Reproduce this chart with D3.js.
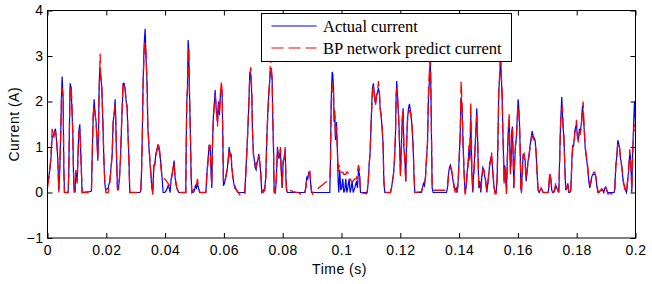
<!DOCTYPE html>
<html>
<head>
<meta charset="utf-8">
<script src="https://cdn.jsdelivr.net/npm/d3@7"></script>
<style>
  html, body { margin: 0; padding: 0; background: #fff; }
  svg { display: block; }
</style>
</head>
<body>
<div id="chart"></div>
<script>
// time stamps (s), one per sample, shared by both series
const timeS = [
  0, 0.00056, 0.00112, 0.00158, 0.00214, 0.00271, 0.00305, 0.00339, 0.00362, 0.00384,
  0.00418, 0.00452, 0.00475, 0.00498, 0.00532, 0.00554, 0.00577, 0.00702, 0.00724, 0.00747,
  0.0077, 0.00804, 0.00827, 0.00861, 0.00883, 0.00906, 0.0094, 0.00963, 0.01008, 0.01042,
  0.01065, 0.01099, 0.01121, 0.01155, 0.01178, 0.01439, 0.01495, 0.01518, 0.01552, 0.01586,
  0.0162, 0.01654, 0.01688, 0.01711, 0.01734, 0.01756, 0.01779, 0.0179, 0.01813, 0.01847,
  0.0187, 0.01892, 0.01915, 0.01949, 0.01983, 0.02062, 0.02119, 0.02153, 0.02198, 0.02232,
  0.02266, 0.023, 0.02323, 0.02346, 0.0238, 0.02414, 0.02448, 0.02482, 0.02516, 0.0255,
  0.02573, 0.02607, 0.02641, 0.02675, 0.02709, 0.02731, 0.02765, 0.02799, 0.0314, 0.03173,
  0.03196, 0.03219, 0.03253, 0.03287, 0.03321, 0.03355, 0.03389, 0.03412, 0.03446, 0.0348,
  // 0.035 - 0.072
  0.03514, 0.03548, 0.03582, 0.03616, 0.0365, 0.03684, 0.03718, 0.03752, 0.03774, 0.0382,
  0.03854, 0.03888, 0.03933, 0.0399, 0.04046, 0.04103, 0.04137, 0.04171, 0.04205, 0.04239,
  0.04273, 0.04307, 0.0433, 0.04364, 0.04398, 0.04432, 0.04466, 0.045, 0.04534, 0.04704,
  0.04715, 0.04738, 0.04761, 0.04783, 0.04806, 0.04829, 0.04863, 0.04886, 0.04908, 0.04954,
  0.04988, 0.05033, 0.05067, 0.05101, 0.05135, 0.0518, 0.05384, 0.05407, 0.0543, 0.05464,
  0.05498, 0.05532, 0.05566, 0.05588, 0.05611, 0.05645, 0.05679, 0.05702, 0.05736, 0.05759,
  0.05781, 0.05815, 0.05849, 0.05883, 0.05917, 0.0594, 0.05963, 0.05985, 0.06019, 0.06053,
  0.06087, 0.06121, 0.06155, 0.06178, 0.06212, 0.06246, 0.06269, 0.06303, 0.06337, 0.06371,
  0.06428, 0.06484, 0.06541, 0.06711, 0.06734, 0.06768, 0.06802, 0.06836, 0.06858, 0.06881,
  0.06915, 0.06949, 0.06972, 0.07006, 0.07028, 0.07062, 0.07096, 0.07119, 0.07153, 0.07187,
  0.07221,
  // 0.072 - 0.110
  0.07255, 0.07289, 0.07334, 0.07391, 0.07425, 0.07459, 0.07493, 0.07527, 0.07561, 0.07584,
  0.07618, 0.07641, 0.07663, 0.07686, 0.07709, 0.07743, 0.07765, 0.07788, 0.07822, 0.07856,
  0.0789, 0.07924, 0.07947, 0.07981, 0.08015, 0.08049, 0.08083, 0.08105, 0.08128, 0.08162,
  0.08241, 0.08355, 0.08525, 0.08638, 0.08718, 0.08752, 0.08786, 0.0882, 0.08854, 0.08888,
  0.08922, 0.08944, 0.08978, 0.09012, 0.09035, 0.09602, 0.09625, 0.09648, 0.09682, 0.09704,
  0.09727, 0.0975, 0.09772, 0.09795, 0.09829, 0.09863, 0.09885, 0.09908, 0.09942, 0.09976,
  0.1001, 0.10044, 0.10078, 0.10112, 0.10146, 0.1018, 0.10214, 0.1026, 0.10294, 0.10328,
  0.10362, 0.10396, 0.10452, 0.10509, 0.10543, 0.10577, 0.10611, 0.10645, 0.10849, 0.10872,
  0.10906, 0.1094, 0.10974,
  // 0.110 - 0.147
  0.11019, 0.11053, 0.11087, 0.11121, 0.11155, 0.11189, 0.11223, 0.11257, 0.11291, 0.11314,
  0.11348, 0.11382, 0.11416, 0.11439, 0.11473, 0.11666, 0.117, 0.11734, 0.11768, 0.11802,
  0.11836, 0.11858, 0.11881, 0.11904, 0.11938, 0.1196, 0.11983, 0.12006, 0.1204, 0.12062,
  0.12096, 0.12119, 0.12153, 0.12187, 0.1221, 0.12244, 0.12278, 0.12312, 0.12334, 0.12368,
  0.12402, 0.12437, 0.12459, 0.12493, 0.1272, 0.12754, 0.12788, 0.12822, 0.12856, 0.1289,
  0.12924, 0.12958, 0.12992, 0.13015, 0.13037, 0.1306, 0.13083, 0.13117, 0.1357, 0.13604,
  0.13638, 0.13672, 0.13706, 0.1374, 0.13774, 0.13797, 0.13831, 0.13865, 0.13899, 0.13933,
  0.13967, 0.14001, 0.14035, 0.14069, 0.14103, 0.14137, 0.14171, 0.14205, 0.14239, 0.14273,
  0.14307, 0.14341, 0.14364, 0.14398, 0.14432, 0.14466, 0.145, 0.14534, 0.14568, 0.14602,
  0.14636, 0.1467, 0.14704,
  // 0.147 - 0.187
  0.14738, 0.14772, 0.14806, 0.1484, 0.14874, 0.14908, 0.14942, 0.14976, 0.1501, 0.15044,
  0.15078, 0.15101, 0.15124, 0.15158, 0.15192, 0.15226, 0.1526, 0.15294, 0.15328, 0.1535,
  0.15373, 0.15396, 0.15418, 0.15441, 0.15464, 0.15486, 0.15509, 0.15532, 0.15554, 0.15588,
  0.15611, 0.15645, 0.15679, 0.15702, 0.15724, 0.15747, 0.1577, 0.15793, 0.15815, 0.15838,
  0.15861, 0.15883, 0.15917, 0.15951, 0.15974, 0.16008, 0.16031, 0.16053, 0.16076, 0.16099,
  0.16121, 0.16144, 0.16178, 0.16212, 0.16246, 0.1628, 0.16314, 0.16348, 0.16382, 0.16416,
  0.1645, 0.16484, 0.16518, 0.16552, 0.16586, 0.1662, 0.16654, 0.16688, 0.16722, 0.16756,
  0.1679, 0.16824, 0.16858, 0.17028, 0.17051, 0.17085, 0.17119, 0.17153, 0.17187, 0.17221,
  0.17255, 0.17289, 0.17323, 0.17357, 0.17391, 0.17425, 0.17448, 0.17471, 0.17493, 0.17516,
  0.17539, 0.17561, 0.17584, 0.17607, 0.17629, 0.17663, 0.17697, 0.17731, 0.17765, 0.17799,
  0.17822, 0.17845, 0.17867, 0.1789, 0.17913, 0.17935, 0.17969, 0.17992, 0.18026, 0.1806,
  0.18094, 0.18128, 0.18162, 0.18196, 0.18219, 0.18253, 0.18287, 0.1831, 0.18344, 0.18378,
  0.18412, 0.18446, 0.1848, 0.18514, 0.18548, 0.18582, 0.18616, 0.1865, 0.18684, 0.18718,
  // 0.187 - 0.2
  0.18752, 0.1882, 0.18854, 0.18888, 0.18922, 0.18956, 0.1899, 0.19024, 0.19058, 0.19273,
  0.19296, 0.1933, 0.19364, 0.19398, 0.1942, 0.19454, 0.19488, 0.19522, 0.19557, 0.19591,
  0.19625, 0.19659, 0.19693, 0.19727, 0.19761, 0.19784, 0.19806, 0.19829, 0.19852, 0.19874,
  0.19897, 0.1992, 0.19942, 0.19965, 0.19988, 0.2
]

// measured current (A)
const actualA = [
  0.2, 0.4, 0.7, 1.2, 1.3, 1.4, 1.15, 0.85, 0.5, 0.05,
  0.5, 1.35, 2.1, 2.55, 2.05, 0.6, 0, 0, 0.45, 1.5,
  2.4, 2.3, 1.9, 1.3, 0.45, 0, 0.05, 0.45, 0.25, 0.9,
  1.35, 1.5, 1.05, 0.4, 0, 0.02, 0.03, 0.75, 1.6, 2.05,
  1.7, 1.55, 1.05, 0.7, 1.3, 2.3, 2.75, 2.6, 2.55, 2.3,
  1.8, 1.35, 0.75, 0.2, 0.05, 0.1, 0.25, 0.5, 0.8, 1.55,
  1.7, 2.05, 1.55, 0.85, 0.05, 0.1, 0.3, 0.75, 1.4, 2.0,
  2.4, 2.4, 2.25, 2.0, 1.9, 1.4, 0.85, 0, 0, 0.03,
  0.4, 1.05, 2.45, 3.25, 3.6, 2.9, 2.35, 1.45, 1.05, 0.7,
  // 0.035 - 0.072
  0.4, 0.1, 0, 0.6, 0.6, 0.85, 0.9, 1.05, 1.0, 0.85,
  0.65, 0.4, 0, 0, 0.05, 0.15, 0.1, 0, 0.3, 0.4,
  0.55, 0.7, 0.4, 0.2, 0.1, 0.05, 0, 0, 0, 0,
  0.85, 2.0, 2.3, 3.35, 3.1, 2.2, 1.2, 0.35, 0, 0,
  0.03, 0.15, 0.1, 0.2, 0.1, 0, 0, 0.2, 0.5, 0.75,
  1.05, 1.0, 0.4, 0.1, 1.05, 1.7, 2.0, 2.25, 1.85, 1.75,
  1.55, 2.0, 1.7, 2.2, 2.3, 2.15, 1.2, 0.15, 0.2, 0.3,
  0.4, 0.55, 0.8, 1.0, 0.8, 0.85, 0.55, 0.35, 0.2, 0.1,
  0.05, 0, 0, 0, 0.3, 0.75, 1.2, 1.7, 2.15, 2.65,
  2.6, 2.15, 1.35, 0.85, 0.75, 0.55, 0.5, 0.65, 0.7, 0.85,
  0.65,
  // 0.072 - 0.110
  0.4, 0, 0.03, 0.1, 0.35, 1.2, 1.75, 2.15, 2.45, 2.65,
  2.65, 2.5, 1.6, 1.0, 0, 0, 0.1, 0.4, 1.0, 0.75,
  0.8, 0.95, 0.5, 0.1, 0.7, 0.75, 0.95, 0.4, 0.05, 0,
  0, 0, 0, 0, 0, 0, 0.1, 0.35, 0.3, 0.45,
  0.45, 0.25, 0, 0, 0, 0, 0.7, 2.0, 2.65, 2.6,
  2.3, 1.55, 1.7, 1.15, 1.55, 0.85, 0.25, 0, 0.5, 0.05,
  0.1, 0.3, 0, 0.05, 0.3, 0, 0.1, 0.3, 0, 0.1,
  0.25, 0, 0.1, 0.25, 0.1, 0.5, 0.4, 0, 0, 0,
  0.2, 0.6, 0.9,
  // 0.110 - 0.147
  1.75, 2.3, 2.4, 2.1, 1.95, 2.15, 2.2, 2.3, 2.15, 1.85,
  1.7, 1.4, 1.05, 0.25, 0, 0, 0.1, 0.25, 0.4, 0.7,
  1.25, 2.15, 2.45, 2.1, 1.7, 1.4, 0.85, 0.4, 1.1, 1.55,
  1.85, 1.0, 0.75, 0.25, 1.0, 1.6, 1.85, 1.95, 1.85, 1.7,
  1.4, 1.0, 0.5, 0, 0, 0.1, 0.2, 0.15, 0.35, 0.75,
  1.05, 2.1, 2.5, 2.95, 2.4, 1.25, 0.1, 0, 0, 0.1,
  0.4, 0.55, 0.6, 0.5, 0.35, 0.25, 0.1, 0.05, 0.1, 0,
  0.25, 0.75, 1.25, 2.1, 1.85, 1.0, 0.4, 0, 0.1, 0.45,
  0.65, 1.0, 0.75, 1.7, 0.45, 0, 0.45, 0.85, 1.35, 1.85,
  1.0, 0.1, 0.25,
  // 0.147 - 0.187
  0, 0.35, 0.55, 0.5, 0.35, 0.25, 0, 0.2, 0.4, 0.65,
  0.75, 0.8, 0.65, 0.35, 0.1, 0, 0, 0.3, 1.4, 2.25,
  2.45, 2.75, 2.85, 2.45, 2.1, 1.4, 0.85, 0.25, 0.6, 0.3,
  0, 0.85, 1.45, 1.6, 1.0, 0.45, 0.7, 1.35, 1.45, 0.8,
  0.1, 0.6, 1.0, 1.25, 1.6, 2.05, 1.85, 1.55, 1.0, 0.1,
  0, 0.4, 0.85, 0.8, 0.7, 0.25, 0.5, 0.7, 0.85, 1.05,
  1.2, 1.35, 1.25, 1.2, 1.15, 0.85, 0.4, 0.05, 0, 0.05,
  0.08, 0.05, 0, 0, 0.1, 0.4, 0.3, 0.05, 0, 0,
  0.05, 0.15, 0.1, 0.05, 0, 0.85, 1.45, 1.8, 2.1, 1.7,
  1.4, 1.25, 0.85, 0.35, 0.05, 0.1, 0.2, 0, 0, 0.05,
  0.45, 0.85, 1.05, 1.0, 1.15, 1.35, 1.45, 1.5, 1.2, 1.15,
  1.4, 1.35, 1.55, 1.9, 1.75, 1.4, 1.0, 0.85, 0.7, 0.5,
  0.25, 0.1, 0.2, 0.35, 0.4, 0.4, 0.4, 0.35, 0.15, 0,
  // 0.187 - 0.2
  0, 0.05, 0.08, 0.05, 0, 0.1, 0.12, 0.05, 0, 0,
  0.1, 0.6, 0.8, 1.15, 1.1, 1.0, 0.75, 0.65, 0.4, 0.2,
  0.15, 0.05, 0, 0.2, 0.45, 0.7, 0.85, 0.8, 0.45, 0,
  0.7, 1.2, 1.6, 2.0, 1.7, 1.5
]

// BP network prediction (A)
const predictA = [
  0.1, 0.35, 0.75, 1.4, 1.2, 1.35, 1.2, 0.9, 0.45, 0,
  0.6, 1.3, 2.05, 2.3, 2.1, 0.5, 0, 0, 0.4, 1.4,
  2.3, 2.35, 2.0, 1.35, 0.5, 0.1, 0, 0.5, 0.2, 0.85,
  1.3, 1.4, 1.1, 0.45, 0, 0, 0.05, 0.7, 1.7, 1.9,
  1.75, 1.5, 1.1, 0.75, 1.2, 2.2, 2.7, 3.05, 2.5, 2.3,
  1.85, 1.4, 0.8, 0.25, 0, 0, 0.2, 0.45, 0.85, 1.5,
  1.75, 1.9, 1.6, 0.9, 0.1, 0.05, 0.35, 0.7, 1.45, 2.05,
  2.4, 2.35, 2.3, 2.0, 1.85, 1.45, 0.8, 0, 0, 0.05,
  0.35, 1.0, 2.4, 3.1, 3.3, 3.0, 2.3, 1.5, 1.1, 0.75,
  // 0.035 - 0.072
  0.45, 0.15, -0.05, 0.55, 0.65, 0.8, 0.95, 1.0, 1.1, 0.9,
  0.6, 0.35, 0.3, 0.3, 0.25, 0.2, 0.15, 0.15, 0.25, 0.4,
  0.55, 0.65, 0.45, 0.25, 0.1, 0.05, 0, -0.05, 0, 0,
  0.8, 2.1, 2.25, 2.9, 3.2, 2.2, 1.2, 0.4, 0, 0.05,
  0.1, 0.15, 0.15, 0.3, 0.1, 0, 0, 0.25, 0.45, 0.7,
  1.0, 1.05, 0.45, 0.15, 1.0, 1.65, 1.95, 2.15, 1.9, 1.7,
  1.45, 1.95, 1.75, 2.15, 2.45, 2.2, 1.25, 0.2, 0.25, 0.3,
  0.45, 0.5, 0.75, 0.95, 0.85, 0.8, 0.6, 0.35, 0.25, 0.15,
  0.05, 0, -0.05, -0.05, 0.25, 0.7, 1.2, 1.75, 2.1, 2.6,
  2.75, 2.2, 1.4, 0.8, 0.7, 0.65, 0.55, 0.6, 0.7, 0.8,
  0.65,
  // 0.072 - 0.110
  0.45, 0.05, 0, 0.05, 0.3, 1.15, 1.7, 2.2, 2.5, 3.0,
  2.7, 2.45, 1.65, 1.05, 0.05, -0.03, 0.1, 0.35, 0.95, 0.8,
  0.75, 1.0, 0.55, 0.1, 0.65, 0.75, 1.0, 0.45, 0.1, 0,
  0.05, 0.02, 0, -0.05, -0.05, 0, 0.1, 0.3, 0.35, 0.4,
  0.45, 0.3, 0.05, -0.03, 0, 0.3, 0.6, 1.8, 2.3, 2.4,
  2.2, 1.6, 1.8, 1.2, 1.45, 0.9, 0.45, 0.6, 0.55, 0.45,
  0.45, 0.45, 0.4, 0.4, 0.4, 0.45, 0.45, 0.35, 0.3, 0.25,
  0.25, 0.25, 0.3, 0.3, 0.45, 0.6, 0.5, 0, -0.03, 0,
  0.2, 0.6, 0.9,
  // 0.110 - 0.147
  1.7, 2.2, 2.35, 2.15, 1.9, 2.1, 2.2, 2.45, 2.2, 1.85,
  1.7, 1.45, 1.0, 0.3, 0, 0, 0.1, 0.25, 0.4, 0.75,
  1.3, 2.1, 2.3, 2.15, 1.75, 1.35, 0.9, 0.35, 1.0, 1.6,
  1.8, 1.1, 0.7, 0.2, 0.95, 1.55, 1.75, 1.8, 1.8, 1.65,
  1.45, 1.05, 0.55, 0, 0.02, 0.1, 0.15, 0.2, 0.3, 0.7,
  1.1, 2.2, 2.7, 3.3, 2.5, 1.3, 0.15, 0.05, 0.05, 0.1,
  0.35, 0.5, 0.55, 0.5, 0.4, 0.3, 0.15, 0, 0.1, 0,
  0.2, 0.7, 1.2, 2.45, 1.9, 1.05, 0.45, -0.05, 0.1, 0.4,
  0.6, 1.05, 0.7, 2.0, 0.5, 0.05, 0.4, 0.8, 1.3, 1.7,
  1.05, 0.15, 0.2,
  // 0.147 - 0.187
  0.05, 0.3, 0.5, 0.5, 0.4, 0.2, 0.05, 0.15, 0.45, 0.6,
  0.7, 0.9, 0.7, 0.35, 0.1, -0.03, -0.03, 0.3, 1.3, 2.2,
  2.5, 3.0, 3.1, 2.5, 2.2, 1.45, 0.8, 0.2, 0.55, 0.3,
  -0.03, 0.8, 1.4, 1.75, 1.05, 0.4, 0.75, 1.3, 1.4, 0.85,
  0.05, 0.55, 1.05, 1.2, 1.55, 1.9, 1.8, 1.5, 1.05, 0.1,
  -0.03, 0.35, 0.8, 0.85, 0.65, 0.3, 0.45, 0.7, 0.8, 1.0,
  1.15, 1.25, 1.2, 1.15, 1.1, 0.9, 0.4, 0.05, 0, 0.02,
  0.1, 0.05, 0, 0, 0.15, 0.45, 0.3, 0.1, 0, 0.02,
  0.1, 0.2, 0.1, 0.05, 0, 0.8, 1.4, 1.75, 1.85, 1.9,
  1.45, 1.3, 0.8, 0.4, 0.1, 0.1, 0.15, 0, -0.03, 0.05,
  0.4, 0.8, 1.0, 1.05, 1.1, 1.3, 1.4, 1.6, 1.25, 1.1,
  1.35, 1.3, 1.5, 1.8, 2.0, 1.45, 1.05, 0.9, 0.75, 0.55,
  0.3, 0.15, 0.25, 0.35, 0.4, 0.45, 0.45, 0.35, 0.2, 0.05,
  // 0.187 - 0.2
  0, 0.05, 0.05, 0.05, 0.02, 0.05, 0.1, 0.05, -0.03, -0.03,
  0.05, 0.55, 0.75, 1.1, 1.05, 1.0, 0.8, 0.6, 0.45, 0.25,
  0.1, 0.05, 0, 0.25, 0.4, 0.65, 0.95, 0.75, 0.5, 0.05,
  0.6, 1.1, 1.4, 1.5, 1.35, 1.4
]

const xTicks = [0, 0.02, 0.04, 0.06, 0.08, 0.1, 0.12, 0.14, 0.16, 0.18, 0.2]
const xTickLabels = ['0', '0.02', '0.04', '0.06', '0.08', '0.1', '0.12', '0.14', '0.16', '0.18', '0.2']
const yTicks = [-1, 0, 1, 2, 3, 4]
const seriesNames = ['Actual current', 'BP network predict current']

const width = 652
const height = 284
const margin = { top: 10.5, right: 16.5, bottom: 46, left: 47.5 }

const svg = d3
  .select('#chart')
  .append('svg')
  .attr('width', width)
  .attr('height', height)

const x = d3.scaleLinear().domain([0, 0.2]).range([margin.left, width - margin.right])
const y = d3.scaleLinear().domain([-1, 4]).range([height - margin.bottom, margin.top])

const font = '"Liberation Sans", Arial, sans-serif'
const dash = '12,5'

svg.append('defs')
  .append('clipPath')
  .attr('id', 'plot-clip')
  .append('rect')
  .attr('x', x(0))
  .attr('y', y(4))
  .attr('width', x(0.2) - x(0))
  .attr('height', y(-1) - y(4))

const n = Math.min(timeS.length, actualA.length, predictA.length)
const pts = d3.range(n).map((i) => ({ t: timeS[i], a: actualA[i], p: predictA[i] }))

const plot = svg.append('g').attr('clip-path', 'url(#plot-clip)')

plot.append('path')
  .datum(pts)
  .attr('fill', 'none')
  .attr('stroke', '#0000ff')
  .attr('stroke-width', 1.2)
  .attr('d', d3.line().x((d) => x(d.t)).y((d) => y(d.a)))

plot.append('path')
  .datum(pts)
  .attr('fill', 'none')
  .attr('stroke', '#ff0000')
  .attr('stroke-width', 1.3)
  .attr('stroke-dasharray', dash)
  .attr('d', d3.line().x((d) => x(d.t)).y((d) => y(d.p)))

// axes, MATLAB style: ticks inward on all four sides
const tickLen = 5
const styleAxis = (g) => {
  g.select('.domain').remove()
  g.selectAll('.tick line').attr('stroke', '#000')
  g.selectAll('.tick text')
    .attr('fill', '#000')
    .attr('font-family', font)
    .attr('font-size', 14)
    .attr('letter-spacing', 0.5)
}

svg.append('g')
  .attr('transform', `translate(0,${y(-1)})`)
  .call(d3.axisBottom(x).tickValues(xTicks).tickFormat((d, i) => xTickLabels[i]).tickSizeInner(-tickLen).tickSizeOuter(0).tickPadding(7))
  .call(styleAxis)

svg.append('g')
  .attr('transform', `translate(0,${y(4)})`)
  .call(d3.axisTop(x).tickValues(xTicks).tickFormat('').tickSizeInner(-tickLen).tickSizeOuter(0))
  .call(styleAxis)

svg.append('g')
  .attr('transform', `translate(${x(0)},0)`)
  .call(d3.axisLeft(y).tickValues(yTicks).tickFormat(d3.format('d')).tickSizeInner(-tickLen).tickSizeOuter(0).tickPadding(4))
  .call(styleAxis)

svg.append('g')
  .attr('transform', `translate(${x(0.2)},0)`)
  .call(d3.axisRight(y).tickValues(yTicks).tickFormat('').tickSizeInner(-tickLen).tickSizeOuter(0))
  .call(styleAxis)

svg.append('rect')
  .attr('x', x(0))
  .attr('y', y(4))
  .attr('width', x(0.2) - x(0))
  .attr('height', y(-1) - y(4))
  .attr('fill', 'none')
  .attr('stroke', '#000')
  .attr('stroke-width', 1)

svg.append('text')
  .attr('x', (x(0) + x(0.2)) / 2 - 2)
  .attr('y', 274)
  .attr('text-anchor', 'middle')
  .attr('font-family', font)
  .attr('font-size', 14)
  .attr('letter-spacing', 0.5)
  .text('Time (s)')

svg.append('text')
  .attr('transform', `translate(19,${(y(-1) + y(4)) / 2}) rotate(-90)`)
  .attr('text-anchor', 'middle')
  .attr('font-family', font)
  .attr('font-size', 14)
  .attr('letter-spacing', 0.5)
  .text('Current (A)')

// legend
const legend = svg.append('g').attr('transform', 'translate(261.5,13.5)')
legend.append('rect')
  .attr('width', 250)
  .attr('height', 48)
  .attr('fill', '#fff')
  .attr('stroke', '#000')

const legendItems = [
  { name: seriesNames[0], color: '#0000ff', dash: null },
  { name: seriesNames[1], color: '#ff0000', dash: dash }
]

const row = legend.selectAll('g.item')
  .data(legendItems)
  .join('g')
  .attr('class', 'item')
  .attr('transform', (d, i) => `translate(0,${12.5 + i * 22})`)

row.append('line')
  .attr('x1', 10)
  .attr('x2', 55)
  .attr('stroke', (d) => d.color)
  .attr('stroke-width', 1.2)
  .attr('stroke-dasharray', (d) => d.dash)

row.append('text')
  .attr('x', 61.5)
  .attr('y', 6)
  .attr('font-family', '"Liberation Serif", "Times New Roman", serif')
  .attr('font-size', 16.5)
  .attr('fill', '#000')
  .text((d) => d.name)
</script>
</body>
</html>
